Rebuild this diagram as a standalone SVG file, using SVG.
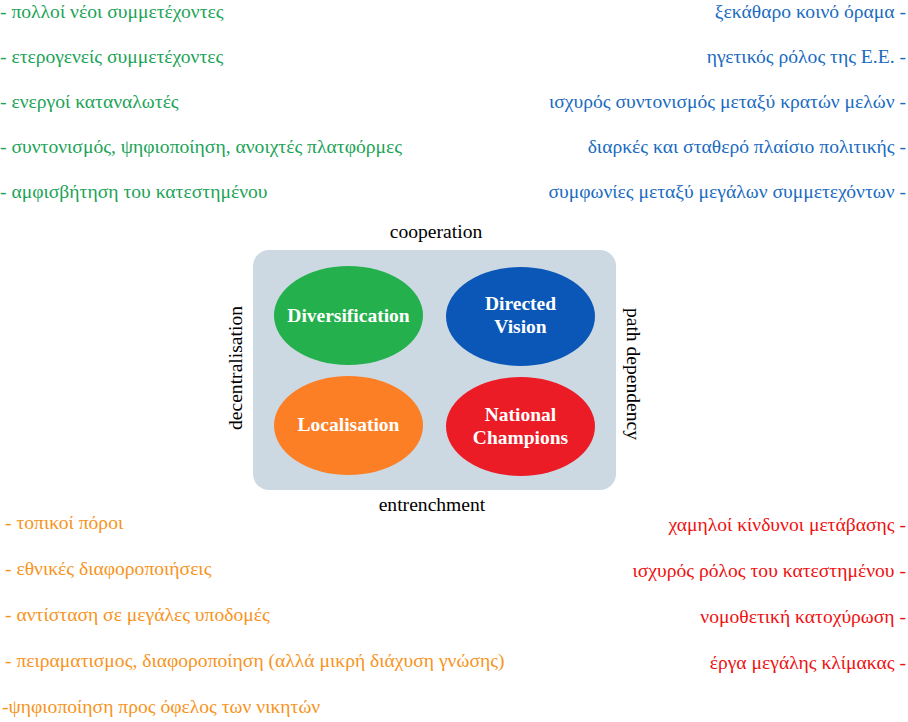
<svg xmlns="http://www.w3.org/2000/svg" width="908" height="722" viewBox="0 0 908 722" font-family="'Liberation Serif', Tinos, 'Times New Roman', serif">
<style>
text{font-family:'Liberation Serif',Tinos,'Times New Roman',serif;font-size:19.6px}
.g{fill:#1BA357}.b{fill:#1A6BC0}.o{fill:#F7941D}.r{fill:#EE1111}
.e{text-anchor:end}
.ax{fill:#000;text-anchor:middle}
.lbl{fill:#fff;font-weight:bold;text-anchor:middle;font-size:19.5px}
</style>
<rect width="908" height="722" fill="#fff"/>
<g id="green-list">
<text class="g" x="0" y="18">- πολλοί νέοι συμμετέχοντες</text>
<text class="g" x="0" y="63">- ετερογενείς συμμετέχοντες</text>
<text class="g" x="0" y="108">- ενεργοί καταναλωτές</text>
<text class="g" x="0" y="153">- συντονισμός, ψηφιοποίηση, ανοιχτές πλατφόρμες</text>
<text class="g" x="0" y="198">- αμφισβήτηση του κατεστημένου</text>
</g>
<g id="blue-list">
<text class="b e" x="906" y="18">ξεκάθαρο κοινό όραμα -</text>
<text class="b e" x="906" y="63">ηγετικός ρόλος της Ε.Ε. -</text>
<text class="b e" x="906" y="108">ισχυρός συντονισμός μεταξύ κρατών μελών -</text>
<text class="b e" x="906" y="153">διαρκές και σταθερό πλαίσιο πολιτικής -</text>
<text class="b e" x="906" y="198">συμφωνίες μεταξύ μεγάλων συμμετεχόντων -</text>
</g>
<g id="orange-list">
<text class="o" x="5" y="529">- τοπικοί πόροι</text>
<text class="o" x="5" y="575">- εθνικές διαφοροποιήσεις</text>
<text class="o" x="5" y="621">- αντίσταση σε μεγάλες υποδομές</text>
<text class="o" x="5" y="667">- πειραματισμος, διαφοροποίηση (αλλά μικρή διάχυση γνώσης)</text>
<text class="o" x="2" y="713">-ψηφιοποίηση προς όφελος των νικητών</text>
</g>
<g id="red-list">
<text class="r e" x="906" y="531">χαμηλοί κίνδυνοι μετάβασης -</text>
<text class="r e" x="906" y="577">ισχυρός ρόλος του κατεστημένου -</text>
<text class="r e" x="906" y="623">νομοθετική κατοχύρωση -</text>
<text class="r e" x="906" y="669">έργα μεγάλης κλίμακας -</text>
</g>
<g id="frame">
<rect x="253" y="250" width="363" height="240" rx="16" fill="#CCD9E3"/>
<text class="ax" x="436" y="238">cooperation</text>
<text class="ax" x="432" y="511">entrenchment</text>
<text class="ax" transform="translate(242,368) rotate(-90)">decentralisation</text>
<text class="ax" transform="translate(627,374) rotate(90)">path dependency</text>
</g>
<g id="diversification">
<ellipse cx="348.5" cy="315.5" rx="74.5" ry="49.5" fill="#24B04C"/>
<text class="lbl" x="348.5" y="322">Diversification</text>
</g>
<g id="directed-vision">
<ellipse cx="520.5" cy="316.5" rx="74.5" ry="49.5" fill="#0A57B7"/>
<text class="lbl" x="520.5" y="310">Directed</text>
<text class="lbl" x="520.5" y="333">Vision</text>
</g>
<g id="localisation">
<ellipse cx="348.5" cy="425.5" rx="74.5" ry="49.5" fill="#FC7F26"/>
<text class="lbl" x="348.5" y="431">Localisation</text>
</g>
<g id="national-champions">
<ellipse cx="520.5" cy="426.5" rx="74.5" ry="49.5" fill="#EC1C27"/>
<text class="lbl" x="520.5" y="421">National</text>
<text class="lbl" x="520.5" y="444">Champions</text>
</g>
</svg>
